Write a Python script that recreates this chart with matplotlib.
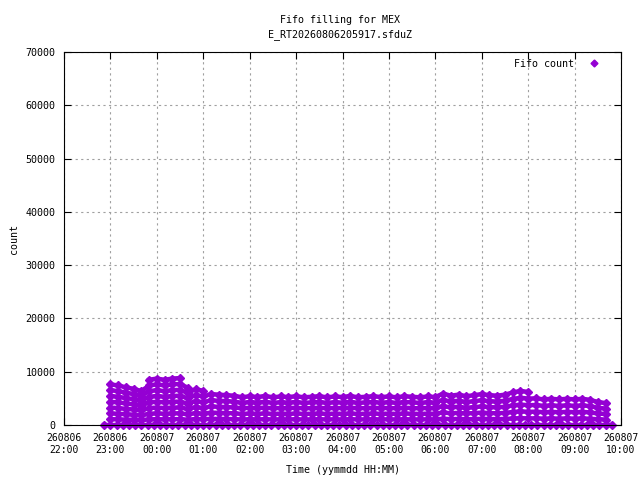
import matplotlib
matplotlib.use('Agg')
import matplotlib.pyplot as plt
import matplotlib.dates as mdates
from matplotlib.lines import Line2D
import pandas as pd
import numpy as np

# sample times (10 min) for the stacked fill levels
times = pd.date_range('2026-08-06 23:00', '2026-08-07 09:40', freq='10min')
band8_times = pd.to_datetime(['2026-08-06 23:50', '2026-08-07 00:00', '2026-08-07 00:10',
                              '2026-08-07 00:20', '2026-08-07 00:30'])
zero_times = pd.date_range('2026-08-06 22:52', '2026-08-07 09:48', freq='8min')

band1 = [1090, 1060, 1010, 970, 910, 1060, 1090, 1060, 1090, 1100, 1000, 1120, 1070, 1160, 1140, 1120, 1100,
         1040, 1080, 1050, 1090, 1040, 1070, 1050, 1080, 1040, 1060, 1080, 1040, 1070, 1050, 1090, 1040,
         1060, 1080, 1050, 1070, 1040, 1080, 1060, 1040, 1070, 1050,
         1180, 1100, 1140, 1080, 1120, 1160, 1120, 1100, 1140, 1220, 1280, 1240,
         1250, 1200, 1230, 1200, 1230, 1200, 1230, 1180, 1080, 1030]
band2 = [2180, 2120, 2020, 1940, 1820, 2120, 2180, 2120, 2180, 2200, 2000, 2240, 2140, 2320, 2280, 2240, 2200,
         2080, 2160, 2100, 2180, 2080, 2140, 2100, 2160, 2080, 2120, 2160, 2080, 2140, 2100, 2180, 2080,
         2120, 2160, 2100, 2140, 2080, 2160, 2120, 2080, 2140, 2100,
         2360, 2200, 2280, 2160, 2240, 2320, 2240, 2200, 2280, 2440, 2560, 2480,
         2500, 2400, 2460, 2400, 2460, 2400, 2460, 2360, 2160, 2060]
band3 = [3270, 3180, 3030, 2910, 2730, 3180, 3270, 3180, 3270, 3300, 3000, 3360, 3210, 3480, 3420, 3360, 3300,
         3120, 3240, 3150, 3270, 3120, 3210, 3150, 3240, 3120, 3180, 3240, 3120, 3210, 3150, 3270, 3120,
         3180, 3240, 3150, 3210, 3120, 3240, 3180, 3120, 3210, 3150,
         3540, 3300, 3420, 3240, 3360, 3480, 3360, 3300, 3420, 3660, 3840, 3720,
         3750, 3600, 3690, 3600, 3690, 3600, 3690, 3540, 3240, 3090]
band4 = [4360, 4240, 4040, 3880, 3640, 4240, 4360, 4240, 4360, 4400, 4000, 4480, 4280, 4640, 4560, 4480, 4400,
         4160, 4320, 4200, 4360, 4160, 4280, 4200, 4320, 4160, 4240, 4320, 4160, 4280, 4200, 4360, 4160,
         4240, 4320, 4200, 4280, 4160, 4320, 4240, 4160, 4280, 4200,
         4720, 4400, 4560, 4320, 4480, 4640, 4480, 4400, 4560, 4880, 5120, 4960,
         5000, 4800, 4920, 4800, 4920, 4800, 4920, 4720, 4320, 4120]
band5 = [5450, 5300, 5050, 4850, 4550, 5300, 5450, 5300, 5450, 5500, 5000, 5600, 5350, 5800, 5700, 5600, 5500,
         5200, 5400, 5250, 5450, 5200, 5350, 5250, 5400, 5200, 5300, 5400, 5200, 5350, 5250, 5450, 5200,
         5300, 5400, 5250, 5350, 5200, 5400, 5300, 5200, 5350, 5250,
         5900, 5500, 5700, 5400, 5600, 5800, 5600, 5500, 5700, 6100, 6400, 6200]
band6 = [6540, 6360, 6060, 5820, 5460, 6360, 6540, 6360, 6540, 6600, 6000, 6720, 6420]
band7 = [7630, 7420, 7070, 6790, 6370, 7420, 7630, 7420, 7630, 7700, 7000]
band8 = [8480, 8720, 8480, 8720, 8800]

color = '#9400d3'
plt.rcParams['font.family'] = 'DejaVu Sans Mono'
plt.rcParams['font.size'] = 7.2

fig = plt.figure(figsize=(6.4, 4.8), dpi=100)
ax = fig.add_axes([64 / 640, 55 / 480, 557 / 640, 373 / 480])

style = dict(color=color, marker='D', markersize=3.6, linewidth=3.2, clip_on=False)
ax.plot(zero_times, np.zeros(len(zero_times)), **style)
for band in [band1, band2, band3, band4, band5, band6, band7]:
    ax.plot(times[:len(band)], band, **style)
ax.plot(band8_times, band8, **style)

ax.set_xlim(pd.Timestamp('2026-08-06 22:00'), pd.Timestamp('2026-08-07 10:00'))
ax.set_ylim(0, 70000)
ax.set_yticks(range(0, 70001, 10000))
ax.xaxis.set_major_locator(mdates.HourLocator())
ax.xaxis.set_major_formatter(mdates.DateFormatter('%y%m%d\n%H:%M'))
ax.tick_params(direction='in', length=5, top=True, right=True, pad=6)
ax.tick_params(axis='x', labelsize=7)
ax.grid(True, color='#a0a0a0', linestyle=(0, (2, 3)), linewidth=0.8)

ax.set_xlabel('Time (yymmdd HH:MM)', labelpad=7)
ax.set_ylabel('count', labelpad=5)
fig.text(0.532, 0.958, 'Fifo filling for MEX', ha='center', va='center')
fig.text(0.532, 0.929, 'E_RT20260806205917.sfduZ', ha='center', va='center')

handle = Line2D([], [], color=color, marker='D', markersize=3.5, linestyle='none')
ax.legend([handle], ['Fifo count'], loc='upper right', bbox_to_anchor=(0.973, 0.992),
          borderaxespad=0, frameon=False, markerfirst=False,
          handlelength=1.5, handletextpad=1.3)

fig.savefig('out.png', dpi=100)
